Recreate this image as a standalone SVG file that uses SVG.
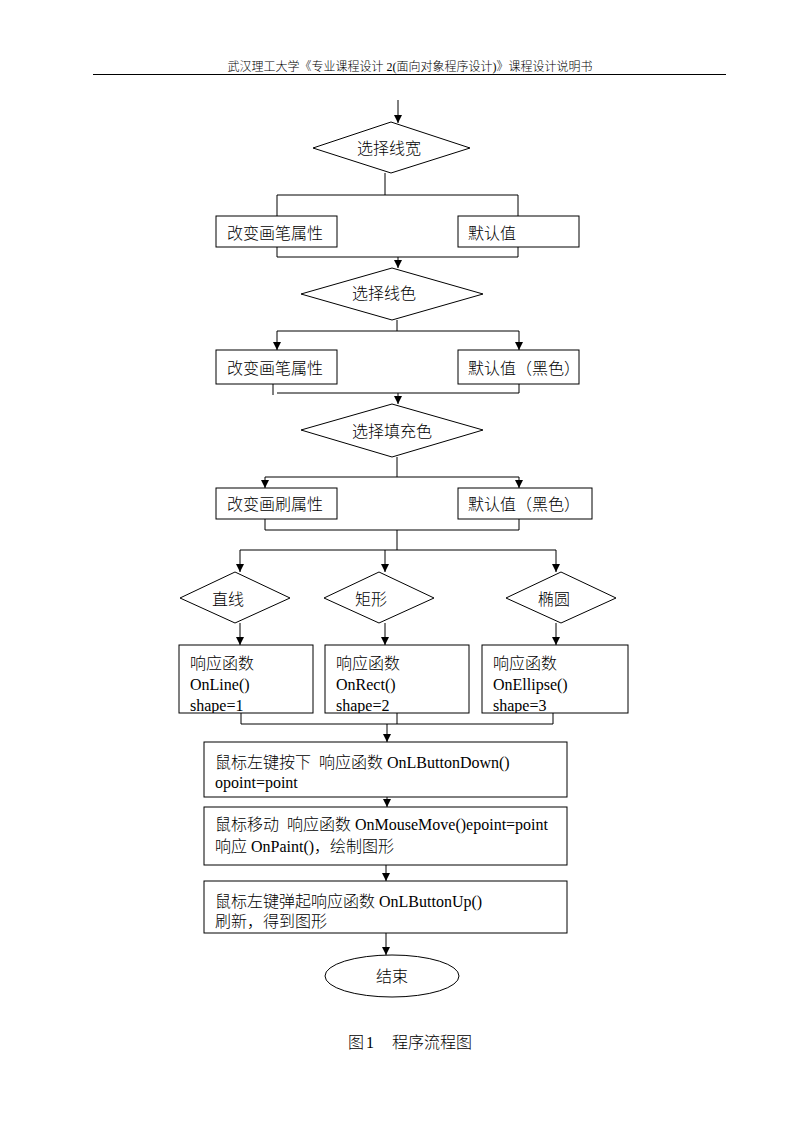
<svg xmlns="http://www.w3.org/2000/svg" width="800" height="1132" viewBox="0 0 800 1132">
<style>
text{font-family:"Liberation Serif","Noto Sans CJK SC",serif;font-size:16px;font-weight:300;fill:#000}
.hdr{font-size:12px}
.shape{fill:#fff;stroke:#000;stroke-width:1}
.ln{fill:none;stroke:#000;stroke-width:1}
.arr{fill:none;stroke:#000;stroke-width:1;marker-end:url(#ah)}
</style>
<defs>
<marker id="ah" viewBox="0 0 10 10" refX="10" refY="5" markerWidth="8" markerHeight="8" markerUnits="userSpaceOnUse" orient="auto">
<path d="M0,0 L10,5 L0,10 z" fill="#000"/>
</marker>
<clipPath id="cA"><rect x="179" y="645" width="134" height="68"/></clipPath>
<clipPath id="cB"><rect x="325" y="645" width="144" height="68"/></clipPath>
<clipPath id="cC"><rect x="482" y="645" width="146" height="68"/></clipPath>
</defs>
<rect width="800" height="1132" fill="#fff"/>
<g id="header">
<text class="hdr" x="410" y="71" text-anchor="middle">武汉理工大学《专业课程设计 2(面向对象程序设计)》课程设计说明书</text>
<line x1="93" y1="74.5" x2="726" y2="74.5" stroke="#000" stroke-width="1.2"/>
</g>
<g id="connectors">
<line class="arr" x1="398" y1="100" x2="398" y2="123"/>
<path class="ln" d="M385,173 V195 M277,216 V195 H518 V216"/>
<path class="ln" d="M277,247 V257 H518 V247"/>
<line class="arr" x1="398" y1="257" x2="398" y2="268"/>
<path class="ln" d="M397,320 V331 M277,331 H519"/>
<line class="arr" x1="277" y1="331" x2="277" y2="350"/>
<line class="arr" x1="519" y1="331" x2="519" y2="350"/>
<path class="ln" d="M273,384 V395 M277,393 H519 M519,384 V393"/>
<line class="arr" x1="398" y1="393" x2="398" y2="404"/>
<path class="ln" d="M397,457 V477 M265,477 H519"/>
<line class="arr" x1="265" y1="477" x2="265" y2="488"/>
<line class="arr" x1="519" y1="477" x2="519" y2="488"/>
<path class="ln" d="M265,519 V530 H519 V519 M397,530 V550 M240,550 H556"/>
<line class="arr" x1="240" y1="550" x2="240" y2="572"/>
<line class="arr" x1="385" y1="550" x2="385" y2="572"/>
<line class="arr" x1="556" y1="550" x2="556" y2="572"/>
<line class="arr" x1="240" y1="623" x2="240" y2="645"/>
<line class="arr" x1="385" y1="623" x2="385" y2="645"/>
<line class="arr" x1="556" y1="623" x2="556" y2="645"/>
<path class="ln" d="M241,713 V724 H553 V713 M397,713 V724"/>
<line class="arr" x1="387" y1="724" x2="387" y2="742"/>
<line class="arr" x1="387" y1="797" x2="387" y2="807"/>
<line class="arr" x1="386" y1="865" x2="386" y2="881"/>
<line class="arr" x1="386" y1="933" x2="386" y2="955"/>
</g>
<g id="d_width">
<polygon class="shape" points="391,122 470,148 391,173 313,148"/>
<text x="357" y="154">选择线宽</text>
</g>
<g id="b_pen1">
<rect class="shape" x="216" y="216" width="121" height="31"/>
<text x="227" y="239">改变画笔属性</text>
</g>
<g id="b_def1">
<rect class="shape" x="458" y="216" width="121" height="31"/>
<text x="468" y="239">默认值</text>
</g>
<g id="d_color">
<polygon class="shape" points="392,268 483,294 392,320 301,294"/>
<text x="352" y="299">选择线色</text>
</g>
<g id="b_pen2">
<rect class="shape" x="216" y="350" width="121" height="34"/>
<text x="227" y="374">改变画笔属性</text>
</g>
<g id="b_def2">
<rect class="shape" x="458" y="350" width="121" height="34"/>
<text x="468" y="374">默认值（黑色）</text>
</g>
<g id="d_fill">
<polygon class="shape" points="392,404 483,430 392,457 301,430"/>
<text x="352" y="437">选择填充色</text>
</g>
<g id="b_brush">
<rect class="shape" x="216" y="488" width="121" height="31"/>
<text x="227" y="510">改变画刷属性</text>
</g>
<g id="b_def3">
<rect class="shape" x="458" y="488" width="134" height="31"/>
<text x="468" y="510">默认值（黑色）</text>
</g>
<g id="d_line">
<polygon class="shape" points="235,572 290,598 235,623 180,598"/>
<text x="212" y="605">直线</text>
</g>
<g id="d_rect">
<polygon class="shape" points="379,572 434,598 379,623 324,598"/>
<text x="355" y="605">矩形</text>
</g>
<g id="d_ellipse">
<polygon class="shape" points="561,572 616,598 561,623 506,598"/>
<text x="538" y="605">椭圆</text>
</g>
<g id="b_online">
<rect class="shape" x="179" y="645" width="134" height="68"/>
<g clip-path="url(#cA)">
<text x="190" y="669">响应函数</text>
<text x="190" y="690">OnLine()</text>
<text x="190" y="711">shape=1</text>
</g>
</g>
<g id="b_onrect">
<rect class="shape" x="325" y="645" width="144" height="68"/>
<g clip-path="url(#cB)">
<text x="336" y="669">响应函数</text>
<text x="336" y="690">OnRect()</text>
<text x="336" y="711">shape=2</text>
</g>
</g>
<g id="b_onellipse">
<rect class="shape" x="482" y="645" width="146" height="68"/>
<g clip-path="url(#cC)">
<text x="493" y="669">响应函数</text>
<text x="493" y="690">OnEllipse()</text>
<text x="493" y="711">shape=3</text>
</g>
</g>
<g id="b_down">
<rect class="shape" x="204" y="742" width="363" height="55"/>
<text x="215" y="768" xml:space="preserve">鼠标左键按下  响应函数 OnLButtonDown()</text>
<text x="215" y="788">opoint=point</text>
</g>
<g id="b_move">
<rect class="shape" x="204" y="807" width="363" height="58"/>
<text x="215" y="830" xml:space="preserve">鼠标移动  响应函数 OnMouseMove()epoint=point</text>
<text x="215" y="852">响应 OnPaint()，绘制图形</text>
</g>
<g id="b_up">
<rect class="shape" x="204" y="881" width="363" height="52"/>
<text x="215" y="907">鼠标左键弹起响应函数 OnLButtonUp()</text>
<text x="215" y="927">刷新，得到图形</text>
</g>
<g id="e_end">
<ellipse class="shape" cx="392" cy="976" rx="67" ry="21"/>
<text x="392" y="982" text-anchor="middle">结束</text>
</g>
<g id="caption">
<text x="348" y="1048">图</text>
<text x="366" y="1048">1</text>
<text x="392" y="1048">程序流程图</text>
</g>
</svg>
